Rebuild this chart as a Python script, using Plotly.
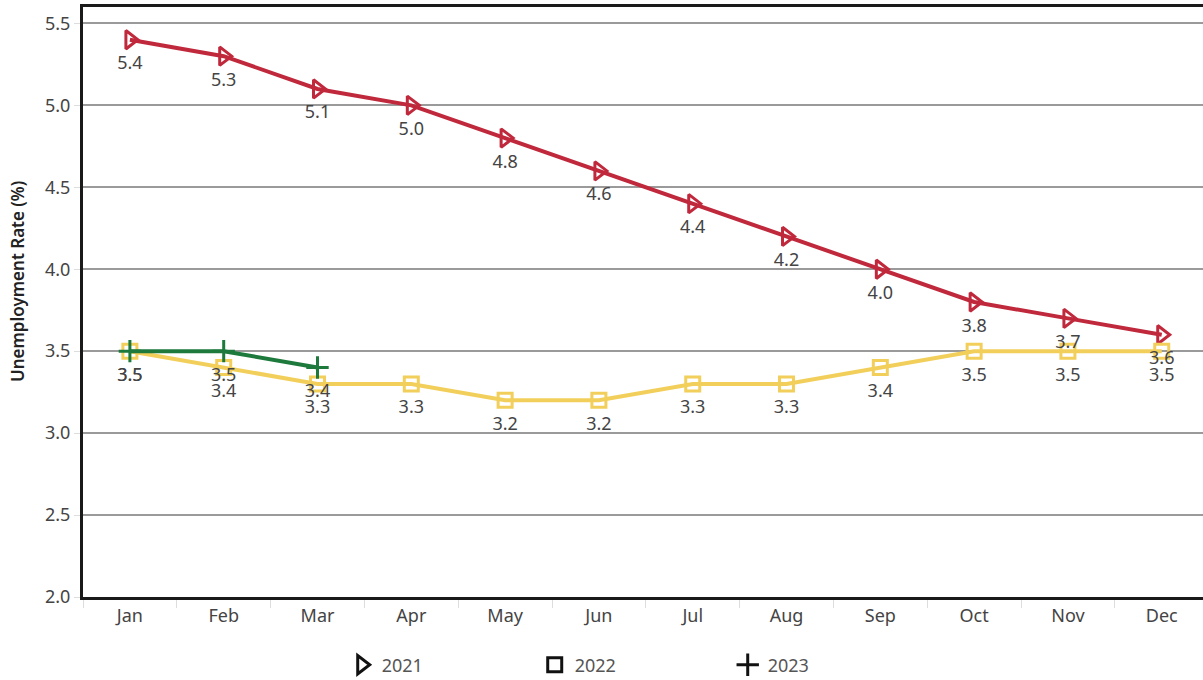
import plotly.graph_objects as go

months = ["Jan", "Feb", "Mar", "Apr", "May", "Jun", "Jul", "Aug", "Sep", "Oct", "Nov", "Dec"]
rate_2021 = [5.4, 5.3, 5.1, 5.0, 4.8, 4.6, 4.4, 4.2, 4.0, 3.8, 3.7, 3.6]
rate_2022 = [3.5, 3.4, 3.3, 3.3, 3.2, 3.2, 3.3, 3.3, 3.4, 3.5, 3.5, 3.5]
rate_2023 = [3.5, 3.5, 3.4]
y_ticks = [2.0, 2.5, 3.0, 3.5, 4.0, 4.5, 5.0, 5.5]

FONT = "Noto Sans"
LABEL_COLOR = "#444444"
FS = 18

series = [
    ("2021", months, rate_2021, "#c0283c", "triangle-right-open", 16),
    ("2022", months, rate_2022, "#f2cf5b", "square-open", 14),
    ("2023", months[:len(rate_2023)], rate_2023, "#1e7a3c", "cross-thin-open", 16),
]

fig = go.Figure()
for name, xs, ys, color, symbol, size in series:
    fig.add_trace(go.Scatter(
        x=xs, y=ys, mode="lines+markers", name=name, showlegend=False,
        line=dict(color=color, width=4),
        marker=dict(symbol=symbol, size=size, color=color, line=dict(color=color, width=3)),
        hoverinfo="x+y+name",
    ))

# value labels under each point (invisible marker sets the offset)
for name, xs, ys, color, symbol, size in series:
    fig.add_trace(go.Scatter(
        x=xs, y=ys, mode="markers+text", showlegend=False, hoverinfo="skip",
        marker=dict(size=24, color="rgba(0,0,0,0)"),
        text=[f"{v:.1f}" for v in ys], textposition="bottom center",
        textfont=dict(family=FONT, size=FS, color=LABEL_COLOR),
        cliponaxis=False,
    ))

# legend entries with black symbols
for name, xs, ys, color, symbol, size in series:
    fig.add_trace(go.Scatter(
        x=[None], y=[None], mode="markers", name=name, showlegend=True,
        marker=dict(symbol=symbol, size=size, color="#111111", line=dict(color="#111111", width=3)),
    ))

fig.add_annotation(
    text="Unemployment Rate (%)", textangle=-90,
    xref="paper", yref="paper", x=0, y=0.534, xanchor="center", yanchor="middle",
    xshift=-65, showarrow=False,
    font=dict(family=FONT, size=17, color="#222222", weight=600),
)

fig.update_layout(
    width=1203, height=680,
    margin=dict(l=83, r=0, t=7, b=83, autoexpand=False),
    paper_bgcolor="white", plot_bgcolor="white",
    font=dict(family=FONT, size=FS, color=LABEL_COLOR),
    legend=dict(orientation="h", x=0.231, xanchor="left",
                yref="container", y=0.022, yanchor="middle",
                entrywidth=148, entrywidthmode="pixels",
                font=dict(family=FONT, size=FS, color="#555555")),
    xaxis=dict(
        type="category", categoryorder="array", categoryarray=months,
        range=[-0.5, 11.44], automargin=False,
        showline=True, linecolor="#1a1a1a", linewidth=3, mirror=True,
        showgrid=False, ticks="outside", tickson="boundaries", ticklen=8,
        tickcolor="#dddddd", tickwidth=1,
        tickfont=dict(family=FONT, size=FS, color=LABEL_COLOR),
    ),
    yaxis=dict(
        range=[2.0, 5.6], tickvals=y_ticks, ticktext=[f"{v:.1f}" for v in y_ticks],
        automargin=False,
        showline=True, linecolor="#1a1a1a", linewidth=3,
        showgrid=True, gridcolor="#9a9a9a", gridwidth=1.5, zeroline=False,
        ticks="outside", ticklen=6, tickcolor="#dddddd",
        tickfont=dict(family=FONT, size=FS, color=LABEL_COLOR),
    ),
)

fig.write_html("out.html", config={"displayModeBar": False},
               post_script="document.body.style.margin='0';")
